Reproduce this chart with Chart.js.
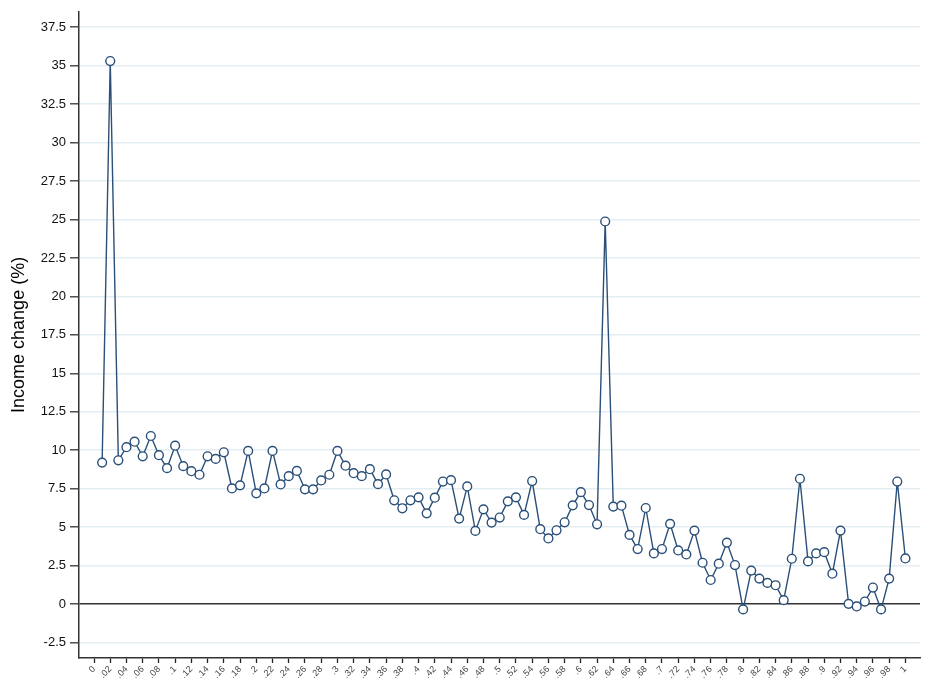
<!DOCTYPE html>
<html>
<head>
<meta charset="utf-8">
<script src="https://cdn.jsdelivr.net/npm/chart.js@4.4.1/dist/chart.umd.min.js"></script>
<style>
  html, body { margin:0; padding:0; background:#fff; }
  #wrap { width:929px; height:681px; position:relative; }
</style>
</head>
<body>
<div id="wrap"><canvas id="incomeChart"></canvas></div>
<script>
const X_VALUES = [
  0.01,0.02,0.03,0.04,0.05,0.06,0.07,0.08,0.09,0.10,
  0.11,0.12,0.13,0.14,0.15,0.16,0.17,0.18,0.19,0.20,
  0.21,0.22,0.23,0.24,0.25,0.26,0.27,0.28,0.29,0.30,
  0.31,0.32,0.33,0.34,0.35,0.36,0.37,0.38,0.39,0.40,
  0.41,0.42,0.43,0.44,0.45,0.46,0.47,0.48,0.49,0.50,
  0.51,0.52,0.53,0.54,0.55,0.56,0.57,0.58,0.59,0.60,
  0.61,0.62,0.63,0.64,0.65,0.66,0.67,0.68,0.69,0.70,
  0.71,0.72,0.73,0.74,0.75,0.76,0.77,0.78,0.79,0.80,
  0.81,0.82,0.83,0.84,0.85,0.86,0.87,0.88,0.89,0.90,
  0.91,0.92,0.93,0.94,0.95,0.96,0.97,0.98,0.99,1.00
];

const INCOME_CHANGE = [
  9.2,35.3,9.35,10.2,10.56,9.61,10.93,9.68,8.84,10.3,
  8.97,8.64,8.41,9.61,9.44,9.87,7.52,7.72,9.96,7.2,
  7.52,9.96,7.78,8.32,8.66,7.46,7.46,8.04,8.41,9.96,
  9.0,8.51,8.32,8.77,7.8,8.43,6.75,6.23,6.75,6.94,
  5.9,6.92,7.97,8.06,5.56,7.65,4.76,6.16,5.3,5.63,
  6.68,6.94,5.8,8.0,4.87,4.27,4.8,5.32,6.42,7.28,
  6.44,5.19,24.87,6.34,6.4,4.5,3.58,6.25,3.3,3.58,
  5.22,3.49,3.23,4.78,2.69,1.57,2.63,4.0,2.54,-0.34,
  2.18,1.66,1.38,1.23,0.26,2.95,8.15,2.78,3.3,3.38,
  1.98,4.78,0.02,-0.15,0.17,1.08,-0.34,1.66,7.97,2.97
];

const X_TICK_LABELS = [
  '0','.02','.04','.06','.08','.1','.12','.14','.16','.18',
  '.2','.22','.24','.26','.28','.3','.32','.34','.36','.38',
  '.4','.42','.44','.46','.48','.5','.52','.54','.56','.58',
  '.6','.62','.64','.66','.68','.7','.72','.74','.76','.78',
  '.8','.82','.84','.86','.88','.9','.92','.94','.96','.98','1'
];

const Y_TICKS = [-2.5,0,2.5,5,7.5,10,12.5,15,17.5,20,22.5,25,27.5,30,32.5,35,37.5];

const lineC = '#2a4f78';
const axisC = '#333';
const gridC = '#e4edf2';
const fontFam = "'Liberation Sans', Arial, Helvetica, sans-serif";

const points = X_VALUES.map((x, i) => ({ x: x, y: INCOME_CHANGE[i] }));

new Chart(document.getElementById('incomeChart'), {
  type: 'line',
  data: { datasets: [{
    label: 'Income change',
    data: points,
    borderColor: lineC, borderWidth: 1.4,
    pointRadius: 4.4, pointBorderWidth: 1.4,
    pointBackgroundColor: '#fff', pointBorderColor: lineC,
    fill: false, tension: 0
  }]},
  options: {
    responsive: true, maintainAspectRatio: false, animation: false,
    layout: { padding: { left: 0, right: 9, top: 10, bottom: 0 } },
    plugins: { legend: { display: false }, tooltip: { enabled: false } },
    scales: {
      x: {
        type: 'linear', min: -0.0185, max: 1.018,
        afterBuildTicks: s => { s.ticks = X_TICK_LABELS.map(l => ({ value: parseFloat(l) })); },
        afterFit: s => { s.height = 23; },
        grid: { drawOnChartArea: false, tickColor: '#222', tickLength: 5, tickWidth: 1.3 },
        border: { color: axisC, width: 1.5 },
        ticks: {
          autoSkip: false, minRotation: 45, maxRotation: 45, padding: 1,
          color: '#444', font: { family: fontFam, size: 9 },
          callback: (v, i) => X_TICK_LABELS[i]
        }
      },
      y: {
        min: -3.5, max: 38.5,
        afterBuildTicks: s => { s.ticks = Y_TICKS.map(v => ({ value: v })); },
        afterFit: s => { s.width = 79; },
        grid: {
          color: c => (c.tick && c.tick.value === 0) ? axisC : gridC,
          lineWidth: 1.6, tickColor: axisC, tickLength: 9, tickWidth: 1.3
        },
        border: { color: axisC, width: 1.5 },
        ticks: {
          padding: 4, color: '#111', font: { family: fontFam, size: 13 },
          callback: v => String(v)
        },
        title: {
          display: true, text: 'Income change (%)', color: '#000',
          font: { family: fontFam, size: 18 }, padding: { top: 8, bottom: 0 }
        }
      }
    }
  }
});
</script>
</body>
</html>
